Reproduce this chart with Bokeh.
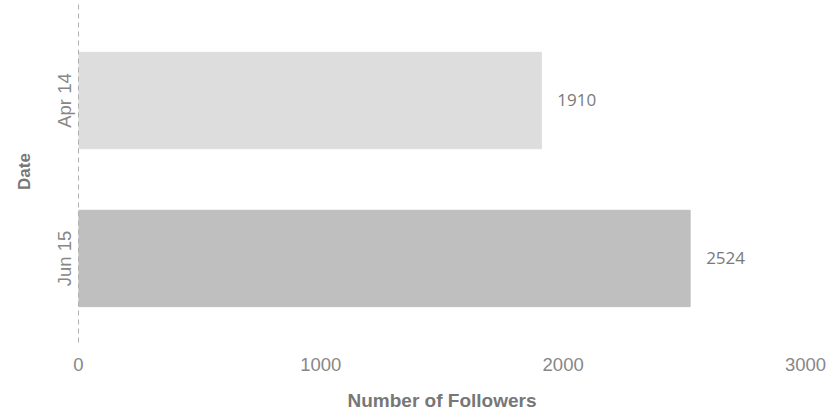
from bokeh.plotting import figure
from bokeh.models import ColumnDataSource, Range1d, FixedTicker
from bokeh.core.properties import value
from bokeh.embed import file_html
from bokeh.resources import INLINE

dates = ["Apr 14", "Jun 15"]
followers = [1910, 2524]
colors = ["#dddddd", "#bfbfbf"]
x_ticks = [0, 1000, 2000, 3000]

ypos = [1.5, 0.5]
src = ColumnDataSource(dict(y=ypos, x=followers, c=colors,
                            lab=[str(v) for v in followers]))

p = figure(width=835, height=415, output_backend="svg", toolbar_location=None,
           x_range=Range1d(0, 3000), y_range=Range1d(-0.032, 2.133),
           min_border_left=78, min_border_right=30, min_border_top=0,
           min_border_bottom=73)
p.hbar(y="y", right="x", left=0, height=0.61, color="c", source=src)
p.text(x="x", y="y", text="lab", source=src, x_offset=16, text_baseline="middle",
       text_align="left", text_font=value("Open Sans"), text_font_size="17px",
       text_color="#7a7a7a")

p.outline_line_color = None
p.grid.grid_line_color = None
p.background_fill_color = "white"

p.xaxis.ticker = FixedTicker(ticks=x_ticks)
p.xaxis.axis_line_color = None
p.xaxis.major_tick_line_color = None
p.xaxis.minor_tick_line_color = None
p.xaxis.major_label_standoff = 9
p.xaxis.axis_label = "Number of Followers"
p.xaxis.axis_label_standoff = 16

p.yaxis.ticker = FixedTicker(ticks=ypos)
p.yaxis.major_label_overrides = {1.5: dates[0], 0.5: dates[1]}
p.yaxis.major_label_orientation = "vertical"
p.yaxis.axis_line_color = "#b0b0b0"
p.yaxis.axis_line_dash = "5 4"
p.yaxis.axis_line_width = 1
p.yaxis.major_tick_line_color = None
p.yaxis.minor_tick_line_color = None
p.yaxis.major_label_standoff = -3
p.yaxis.axis_label = "Date"
p.yaxis.axis_label_standoff = 18

for ax in (p.xaxis, p.yaxis):
    ax.major_label_text_font = "Liberation Sans"
    ax.major_label_text_font_size = "18.5px"
    ax.major_label_text_color = "#878787"
    ax.axis_label_text_font = "Liberation Sans"
    ax.axis_label_text_font_style = "bold"
    ax.axis_label_text_color = "#777777"
p.xaxis.axis_label_text_font_size = "19px"
p.yaxis.axis_label_text_font_size = "17px"

open("out.html", "w").write(file_html(p, INLINE))
